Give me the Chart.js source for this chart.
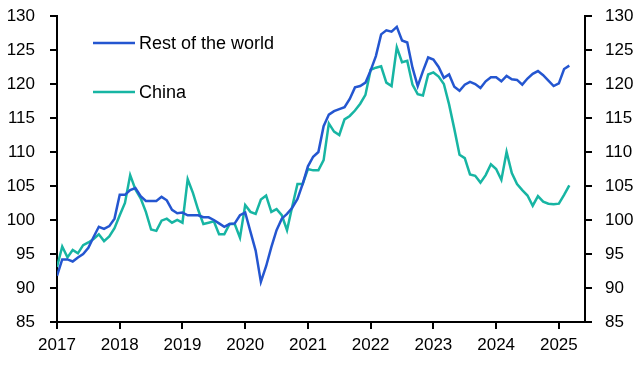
<!DOCTYPE html>
<html>
<head>
<meta charset="utf-8">
<script src="https://cdn.jsdelivr.net/npm/chart.js@4"></script>
<style>
  html, body { margin: 0; padding: 0; background: #fff; }
  #wrap { width: 642px; height: 367px; }
</style>
</head>
<body>
<div id="wrap"><canvas id="chart" width="642" height="367"></canvas></div>
<script>
// monthly, Jan 2017 .. Mar 2025
const startYear = 2017;
const yearLabels = [2017, 2018, 2019, 2020, 2021, 2022, 2023, 2024, 2025];

const restOfWorld = [
  91.8, 94.2, 94.2, 93.9, 94.5, 95.0, 95.9, 97.5, 99.0, 98.7, 99.1, 100.2,
  103.7, 103.7, 104.4, 104.7, 103.5, 102.8, 102.8, 102.8, 103.4, 102.9, 101.5, 101.0,
  101.1, 100.7, 100.7, 100.7, 100.4, 100.4, 100.0, 99.5, 99.0, 99.4, 99.5, 100.7,
  101.1, 98.3, 95.5, 90.9, 93.2, 96.0, 98.5, 100.2, 100.9, 101.8, 103.1, 105.3,
  107.9, 109.3, 110.0, 113.8, 115.5, 116.0, 116.3, 116.6, 117.8, 119.5, 119.7, 120.2,
  122.0, 124.1, 127.3, 127.9, 127.7, 128.4, 126.4, 126.1, 122.4, 119.7, 121.9, 123.9,
  123.6, 122.5, 120.9, 121.4, 119.6, 119.0, 119.9, 120.3, 120.0, 119.4, 120.4, 121.0,
  121.0, 120.4, 121.2, 120.7, 120.6, 119.9, 120.8, 121.5, 121.9, 121.3, 120.5, 119.7,
  120.1, 122.2, 122.7
];

const china = [
  93.1, 96.1, 94.5, 95.6, 95.1, 96.3, 96.7, 97.2, 97.9, 96.9, 97.6, 98.8,
  100.7, 102.5, 106.6, 104.5, 103.2, 101.2, 98.6, 98.4, 99.9, 100.2, 99.6, 100.0,
  99.6, 106.0, 104.0, 101.5, 99.4, 99.6, 99.8, 97.9, 97.9, 99.4, 99.4, 97.4,
  102.2, 101.2, 100.9, 103.0, 103.6, 101.2, 101.6, 100.7, 98.5, 102.0, 105.3, 105.3,
  107.5, 107.3, 107.3, 108.8, 114.2, 113.0, 112.5, 114.8, 115.3, 116.1, 117.1, 118.4,
  122.1, 122.4, 122.6, 120.2, 119.7, 125.4, 123.2, 123.4, 119.9, 118.5, 118.3, 121.4,
  121.7, 121.1, 120.0, 117.0, 113.4, 109.6, 109.1, 106.7, 106.5, 105.5, 106.6, 108.2,
  107.5, 105.9, 110.0, 106.9, 105.3, 104.4, 103.6, 102.1, 103.5, 102.7, 102.4, 102.3,
  102.4, 103.7, 105.1
];

const toPoints = arr => arr.map((v, i) => ({ x: i, y: v }));

const FONT = "'Liberation Sans', Arial, sans-serif";

// legend drawn inside the plot, top-left
const insideLegend = {
  id: 'insideLegend',
  afterDraw(chart) {
    const ctx = chart.ctx;
    const rows = [43, 92];
    ctx.save();
    chart.data.datasets.forEach((ds, i) => {
      const y = rows[i];
      ctx.strokeStyle = ds.borderColor;
      ctx.lineWidth = 2.5;
      ctx.beginPath();
      ctx.moveTo(93, y);
      ctx.lineTo(135, y);
      ctx.stroke();
      ctx.fillStyle = '#000';
      ctx.font = '18px ' + FONT;
      ctx.textBaseline = 'middle';
      ctx.fillText(ds.label, 139, y + 1);
    });
    ctx.restore();
  }
};

const yAxis = (pos, pad) => ({
  type: 'linear',
  position: pos,
  min: 85,
  max: 130,
  afterFit: s => { s.width = 57; s.paddingTop = 0; s.paddingBottom = 0; },
  border: { color: '#000', width: 2 },
  grid: { drawOnChartArea: false, drawTicks: true, tickLength: 7, color: '#000', lineWidth: 2 },
  ticks: { stepSize: 5, color: '#000', padding: pad, font: { family: FONT, size: 17 } }
});

new Chart(document.getElementById('chart'), {
  type: 'line',
  data: {
    datasets: [
      {
        label: 'Rest of the world',
        data: toPoints(restOfWorld),
        borderColor: '#2456d0',
        borderWidth: 2.5,
        pointRadius: 0,
        tension: 0,
        yAxisID: 'y'
      },
      {
        label: 'China',
        data: toPoints(china),
        borderColor: '#17b5a3',
        borderWidth: 2.5,
        pointRadius: 0,
        tension: 0,
        yAxisID: 'y'
      }
    ]
  },
  options: {
    responsive: false,
    animation: false,
    layout: { padding: { top: 16, left: 0, right: 0, bottom: 0 } },
    plugins: {
      legend: { display: false },
      tooltip: { enabled: false }
    },
    scales: {
      x: {
        type: 'linear',
        min: 0,
        max: 101,
        afterFit: s => { s.height = 45; },
        afterBuildTicks: s => {
          s.ticks = yearLabels.map(yr => ({ value: (yr - startYear) * 12 }));
        },
        border: { color: '#000', width: 2 },
        grid: { drawOnChartArea: false, drawTicks: true, tickLength: 7, color: '#000', lineWidth: 2 },
        ticks: {
          color: '#000',
          padding: 6,
          maxRotation: 0,
          font: { family: FONT, size: 17 },
          callback: v => String(startYear + v / 12)
        }
      },
      y: yAxis('left', 15),
      y2: yAxis('right', 13)
    }
  },
  plugins: [insideLegend]
});
</script>
</body>
</html>
